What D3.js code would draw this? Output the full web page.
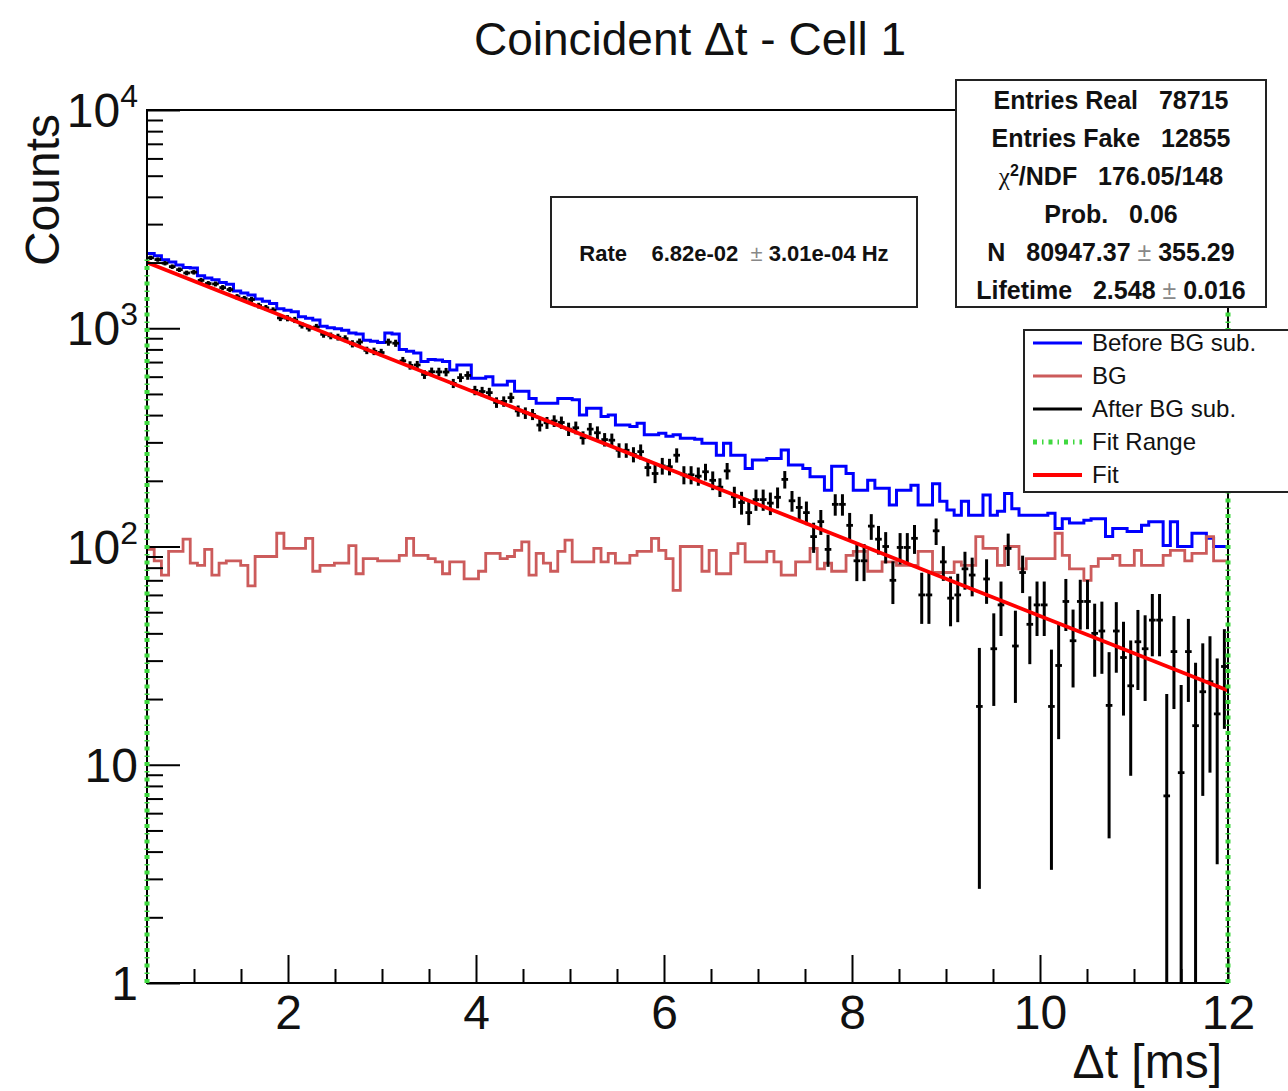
<!DOCTYPE html>
<html><head><meta charset="utf-8">
<script src="https://cdn.jsdelivr.net/npm/d3@7"></script>
<style>
body{margin:0;background:#fff;}
svg{display:block;font-family:"Liberation Sans",Arial,Helvetica,sans-serif;}
</style>
</head><body>
<svg id="chart" width="1288" height="1091"></svg>
<script>
// ---------- data ----------
const xDomain = [0.5, 12];
const nBins = 150;
const yDomain = [1, 10000];
const xMajorTicks = [2, 4, 6, 8, 10, 12];
const yMajorTicks = [1, 10, 100, 1000, 10000];
const yTickBase = ["1", "10", "10", "10", "10"];
const yTickExp = ["", "", "2", "3", "4"];

// Before BG subtraction (blue)
const beforeBG = [
2200,2150,2060,2010,1950,1900,1890,1740,1700,1670,
1620,1590,1480,1450,1420,1360,1330,1300,1230,1210,
1190,1130,1110,1090,1020,1005,995,980,950,940,
880,872,860,950,940,800,785,770,705,720,
716,705,644,679,679,590,590,600,550,550,
571,514,514,477,453,453,453,477,477,470,
400,430,430,394,400,360,360,355,367,325,
325,330,320,325,313,313,310,297,297,262,
297,262,262,228,249,249,253,253,277,236,
236,228,209,209,181,233,233,216,181,181,
201,185,185,155,181,181,191,155,155,194,
161,147,139,161,139,139,172,139,145,175,
149,139,139,139,139,142,121,134,128,128,
132,134,134,111,121,121,117,117,125,130,
130,101,130,100,100,115,115,109,100,100];

// Background (fake coincidences, red)
const bgCounts = [
97,86,74,95,95,108,84,82,97,74,
84,86,86,82,66,90,90,90,115,98,
98,98,109,77,82,82,84,84,101,75,
88,88,86,86,86,91,109,91,91,88,
85,75,85,85,71,71,77,93,93,88,
90,96,105,74,93,84,77,95,107,85,
85,85,98,85,93,84,84,91,95,95,
109,96,88,63,100,100,100,77,96,75,
75,93,103,85,85,85,95,85,74,74,
85,85,98,79,84,77,77,91,95,95,
77,77,85,85,82,82,82,95,95,76,
76,76,85,82,82,111,98,98,82,100,
100,79,88,88,88,88,115,91,79,79,
70,81,88,88,91,82,82,96,82,82,
82,91,96,96,86,93,93,111,86,86];

// After BG subtraction (black points) and their errors
const afterBG = [
2103,2064,1986,1915,1855,1792,1806,1658,1603,1596,
1536,1504,1394,1368,1354,1270,1240,1210,1115,1112,
1092,1032,1001,1013,938,923,911,896,849,865,
792,784,774,864,854,709,676,679,614,632,
631,630,559,594,608,519,513,507,457,462,
481,418,409,403,360,369,376,370,345,350,
315,345,332,309,307,276,276,264,272,230,
216,234,232,262,213,213,210,220,201,187,
222,169,159,143,164,164,158,168,203,162,
151,143,111,130,97,156,156,125,86,86,
124,108,100,70,99,99,109,60,60,118,
85,58,60,79,74,18.5,71,34,54,98,
35,76,44,54,54,18.5,28.5,56,37,56,
56,40,41,18.7,41,31,23,36.6,34,46,
46,7.2,33,9.2,33,15.1,21.6,24,17.1,28.2];

const afterBGErr = [
47.9,47.3,46.2,45.9,45.2,44.8,44.4,42.7,42.4,41.8,
41.3,40.9,39.6,39.1,38.5,38.1,37.7,37.3,36.7,36.2,
35.9,35.0,34.9,34.2,33.2,33.0,32.8,32.6,32.4,31.9,
31.1,31.0,30.8,32.2,32.0,29.8,29.9,29.3,28.2,28.4,
28.3,27.9,27.0,27.6,27.4,25.7,25.8,26.3,25.4,25.3,
25.7,24.7,24.9,23.5,23.4,23.2,23.0,23.9,24.2,23.6,
22.0,22.7,23.0,21.9,22.2,21.1,21.1,21.1,21.5,20.5,
20.8,20.6,20.2,19.7,20.3,20.3,20.2,19.3,19.8,18.4,
19.3,18.8,19.1,17.7,18.3,18.3,18.7,18.4,18.7,17.6,
17.9,17.7,17.5,17.0,16.3,17.6,17.6,17.5,16.6,16.6,
16.7,16.2,16.4,15.5,16.2,16.2,16.5,15.8,15.8,16.4,
15.4,14.9,15.0,15.6,14.9,15.8,16.4,15.4,15.1,16.6,
15.8,14.8,15.1,15.1,15.1,15.2,15.4,15.0,14.4,14.4,
14.2,14.7,14.9,14.1,14.6,14.2,14.1,14.6,14.4,14.6,
14.6,13.9,15.0,14.0,13.6,14.2,14.4,14.8,13.6,13.6];

// Exponential fit (straight on the log axis), endpoints of the fit range
const fitX = [0.5, 12];
const fitY = [2002, 21.9];
// Fit range markers
const fitRangeX = [0.5, 12];
const fitRangeY = [1, 2100];

const titleText = "Coincident \u0394t - Cell 1";
const xTitle = "\u0394t [ms]";
const yTitle = "Counts";
const statsRows = [
  ["Entries Real", "78715"],
  ["Entries Fake", "12855"],
  ["\u03c7\u00b2/NDF", "176.05/148"],
  ["Prob.", "0.06"],
  ["N", "80947.37 \u00b1 355.29"],
  ["Lifetime", "2.548 \u00b1 0.016"]
];
const rateText = ["Rate", "6.82e-02", "3.01e-04 Hz"];
const legendLabels = ["Before BG sub.", "BG", "After BG sub.", "Fit Range", "Fit"];

// ---------- layout ----------
const L = 147, R = 1228, T = 110, B = 983;
const svg = d3.select("#chart");
const x = d3.scaleLinear().domain(xDomain).range([L, R]);
const y = d3.scaleLog().domain(yDomain).range([B, T]);
const binW = (xDomain[1] - xDomain[0]) / nBins;
const edges = d3.range(nBins + 1).map(i => xDomain[0] + i * binW);

const colBlue = "#0000ff", colBG = "#cc5b5b", colFit = "#ff0000", colGreen = "#3fd83f";

svg.append("defs").append("clipPath").attr("id", "plotclip")
  .append("rect").attr("x", L).attr("y", T).attr("width", R - L).attr("height", B - T);

const plot = svg.append("g").attr("clip-path", "url(#plotclip)");

function stepPath(vals) {
  let d = "M" + x(edges[0]) + "," + y(vals[0]);
  vals.forEach((v, i) => {
    if (i > 0) d += "V" + y(v);
    d += "H" + x(edges[i + 1]);
  });
  return d;
}

plot.append("path").attr("d", stepPath(beforeBG)).attr("fill", "none")
  .attr("stroke", colBlue).attr("stroke-width", 3);
plot.append("path").attr("d", stepPath(bgCounts)).attr("fill", "none")
  .attr("stroke", colBG).attr("stroke-width", 2.8);

// black points with error bars
const pts = plot.append("g").attr("stroke", "#000");
afterBG.forEach((v, i) => {
  const e = afterBGErr[i];
  const xc = x((edges[i] + edges[i + 1]) / 2);
  const lo = v - e > 0 ? y(v - e) : B + 5;
  pts.append("line").attr("x1", xc).attr("x2", xc).attr("y1", lo).attr("y2", y(v + e))
    .attr("stroke-width", 3);
  pts.append("line").attr("x1", x(edges[i]) + 0.3).attr("x2", x(edges[i + 1]) - 0.3)
    .attr("y1", y(v)).attr("y2", y(v)).attr("stroke-width", 2.8);
});

// fit
plot.append("path")
  .attr("d", d3.line().x(d => x(d[0])).y(d => y(d[1]))(fitX.map((v, i) => [v, fitY[i]])))
  .attr("fill", "none").attr("stroke", colFit).attr("stroke-width", 3.8);

// ---------- axes ----------
const axG = svg.append("g");
const xMinor = d3.range(1, 12.01, 0.5).filter(v => !xMajorTicks.includes(v));
axG.append("g").attr("transform", `translate(0,${B})`)
  .call(d3.axisBottom(x).tickValues(xMinor).tickSize(-14).tickFormat(""))
  .call(g => g.select(".domain").remove());
axG.append("g").attr("transform", `translate(0,${B})`)
  .call(d3.axisBottom(x).tickValues(xMajorTicks).tickSize(-28).tickPadding(12).tickFormat(d3.format("d")))
  .call(g => g.select(".domain").remove())
  .call(g => g.selectAll("text").attr("font-size", 48).attr("fill", "#111").attr("font-family", "Liberation Sans, Arial, sans-serif"));

const yMinor = [];
[1, 10, 100, 1000].forEach(dec => { for (let k = 2; k <= 9; k++) yMinor.push(dec * k); });
axG.append("g").attr("transform", `translate(${L},0)`)
  .call(d3.axisLeft(y).tickValues(yMinor).tickSize(-16).tickFormat(""))
  .call(g => g.select(".domain").remove());
axG.append("g").attr("transform", `translate(${L},0)`)
  .call(d3.axisLeft(y).tickValues(yMajorTicks).tickSize(-33).tickFormat(""))
  .call(g => g.select(".domain").remove());
axG.selectAll(".tick line").attr("stroke", "#000").attr("stroke-width", 2);

// y labels with superscripts
yMajorTicks.forEach((v, i) => {
  const t = svg.append("text").attr("x", 138).attr("y", y(v) + 17)
    .attr("text-anchor", "end").attr("font-size", 48).attr("fill", "#111");
  t.append("tspan").text(yTickBase[i]);
  if (yTickExp[i]) t.append("tspan").attr("font-size", 32).attr("dy", -20).text(yTickExp[i]);
});

// frame
svg.append("rect").attr("x", L).attr("y", T).attr("width", R - L).attr("height", B - T)
  .attr("fill", "none").attr("stroke", "#000").attr("stroke-width", 2);

// fit range lines (dotted green)
const greenDash = "4,5,1.5,5";
fitRangeX.forEach(v => {
  svg.append("line").attr("x1", x(v)).attr("x2", x(v)).attr("y1", y(fitRangeY[0])).attr("y2", y(fitRangeY[1]))
    .attr("stroke", colGreen).attr("stroke-width", 5).attr("stroke-dasharray", greenDash);
});

// titles
svg.append("text").attr("x", 690).attr("y", 55).attr("text-anchor", "middle")
  .attr("font-size", 46).attr("fill", "#111").text(titleText);
svg.append("text").attr("x", 1222).attr("y", 1078).attr("text-anchor", "end")
  .attr("font-size", 48).attr("fill", "#111").text(xTitle);
svg.append("text").attr("transform", "translate(59,114) rotate(-90)").attr("text-anchor", "end")
  .attr("font-size", 48).attr("fill", "#111").text(yTitle);

// rate box
svg.append("rect").attr("x", 551).attr("y", 197).attr("width", 366).attr("height", 110)
  .attr("fill", "#fff").attr("stroke", "#222").attr("stroke-width", 2);
const rt = svg.append("text").attr("x", 734).attr("y", 261).attr("text-anchor", "middle")
  .attr("font-size", 22).attr("font-weight", "bold").attr("fill", "#111").style("white-space", "pre");
rt.append("tspan").text(rateText[0] + "    " + rateText[1] + "  ");
rt.append("tspan").attr("font-weight", "normal").attr("fill", "#888").text("\u00b1");
rt.append("tspan").text(" " + rateText[2]);

// stats box
svg.append("rect").attr("x", 956).attr("y", 80).attr("width", 310).attr("height", 227)
  .attr("fill", "#fff").attr("stroke", "#222").attr("stroke-width", 2);
statsRows.forEach((r, i) => {
  const t = svg.append("text").attr("x", 1111).attr("y", 109 + i * 38).attr("text-anchor", "middle")
    .attr("font-size", 25).attr("font-weight", "bold").attr("fill", "#111").style("white-space", "pre");
  if (r[0].startsWith("\u03c7")) {
    t.append("tspan").attr("font-family", "Liberation Serif, serif").attr("font-weight", "normal").text("\u03c7");
    t.append("tspan").attr("font-size", 16).attr("dy", -9).text("2");
    t.append("tspan").attr("dy", 9).text("/NDF   ");
  } else {
    t.append("tspan").text(r[0] + "   ");
  }
  const parts = r[1].split(" \u00b1 ");
  t.append("tspan").text(parts[0]);
  if (parts.length > 1) {
    t.append("tspan").attr("font-weight", "normal").attr("fill", "#888").text(" \u00b1 ");
    t.append("tspan").text(parts[1]);
  }
});

// legend
svg.append("rect").attr("x", 1024).attr("y", 330).attr("width", 280).attr("height", 162)
  .attr("fill", "#fff").attr("stroke", "#222").attr("stroke-width", 2);
const legStyles = [
  {c: colBlue, w: 3, dash: null},
  {c: colBG, w: 2.8, dash: null},
  {c: "#000", w: 3, dash: null},
  {c: colGreen, w: 5, dash: greenDash},
  {c: colFit, w: 3.8, dash: null}
];
legendLabels.forEach((lab, i) => {
  const yy = 343 + i * 33;
  const ln = svg.append("line").attr("x1", 1033).attr("x2", 1082).attr("y1", yy).attr("y2", yy)
    .attr("stroke", legStyles[i].c).attr("stroke-width", legStyles[i].w);
  if (legStyles[i].dash) ln.attr("stroke-dasharray", legStyles[i].dash);
  svg.append("text").attr("x", 1092).attr("y", yy + 8).attr("font-size", 24).attr("fill", "#111").text(lab);
});
</script>
</body></html>
